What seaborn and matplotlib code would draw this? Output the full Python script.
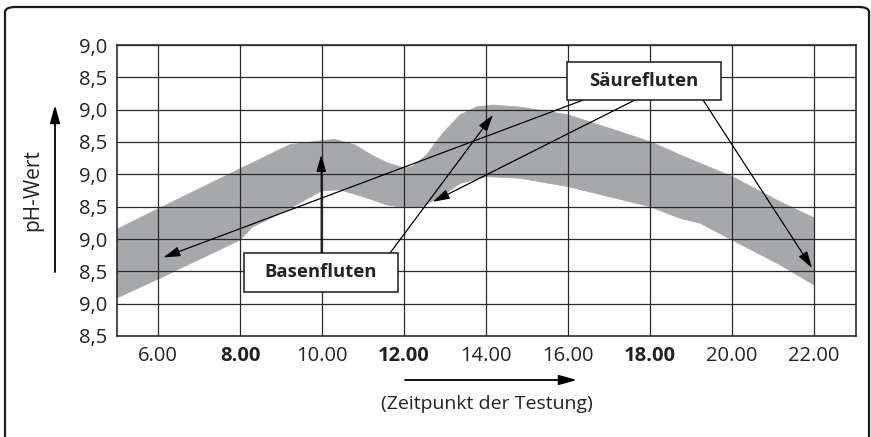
import numpy as np
import matplotlib.pyplot as plt
import seaborn as sns
from matplotlib.patches import Rectangle, FancyBboxPatch, FancyArrowPatch

# band edges (x = hour of day, y = grid row 0..9)
upper_x = [5, 6, 8, 9.2, 10, 10.3, 10.8, 11.2, 11.6, 12.0, 12.2, 12.55, 12.95, 13.37, 13.78, 14.17, 14.83, 16, 18, 18.73, 20, 21.17, 22]
upper_y = [3.3, 3.93, 5.17, 5.91, 6.04, 6.08, 5.91, 5.6, 5.35, 5.2, 5.24, 5.6, 6.28, 6.84, 7.09, 7.14, 7.08, 6.84, 6.01, 5.6, 4.93, 4.15, 3.65]
lower_x = [5, 6, 8, 8.3, 9.15, 10, 10.44, 11.0, 11.6, 12.0, 12.4, 12.9, 13.37, 14, 14.83, 16, 18, 18.73, 19.22, 20, 21.17, 22]
lower_y = [1.18, 1.76, 2.97, 3.37, 3.90, 4.5, 4.52, 4.31, 4.05, 3.98, 3.98, 4.31, 4.72, 4.93, 4.88, 4.62, 4.0, 3.64, 3.49, 2.97, 2.2, 1.58]

x_ticks = [6, 8, 10, 12, 14, 16, 18, 20, 22]
x_labels = ["6.00", "8.00", "10.00", "12.00", "14.00", "16.00", "18.00", "20.00", "22.00"]
bold_ticks = ["8.00", "12.00", "18.00"]
y_ticks = list(range(10))
y_labels = ["8,5", "9,0"] * 5

band_color = "#a7a8ab"

sns.set_style("white")
plt.rcParams['font.family'] = ['Open Sans', 'DejaVu Sans']

fig = plt.figure(figsize=(8.71, 4.37), dpi=100)
ax = fig.add_axes([117 / 871, 1 - 336 / 437, 739 / 871, 291 / 437])

# gray band
ax.fill(np.r_[upper_x, lower_x[::-1]], np.r_[upper_y, lower_y[::-1]],
        color=band_color, lw=0, zorder=1)
sns.lineplot(x=upper_x, y=upper_y, ax=ax, color=band_color, lw=0.6, zorder=1)
sns.lineplot(x=lower_x, y=lower_y, ax=ax, color=band_color, lw=0.6, zorder=1)

ax.set_xlim(5, 23.02)
ax.set_ylim(0, 9)
ax.set_xticks(x_ticks)
ax.set_xticklabels(x_labels, fontsize=14.5, color="#222222")
ax.set_yticks(y_ticks)
ax.set_yticklabels(y_labels, fontsize=14.5, color="#222222")
for lab in ax.get_xticklabels():
    if lab.get_text() in bold_ticks:
        lab.set_fontweight("bold")
ax.tick_params(length=0, pad=7)
ax.grid(True, color="#2a2a2a", lw=0.9, zorder=2)
ax.set_axisbelow(False)
for s in ax.spines.values():
    s.set_color("#1a1a1a")
    s.set_linewidth(1.1)

# arrows from the label boxes
arrow_kw = dict(arrowstyle="-|>,head_length=0.85,head_width=0.25", mutation_scale=12,
                color="black", lw=0.9, shrinkA=0, shrinkB=0)
arrows = [((16.37, 7.30), (6.13, 2.43)),
          ((17.63, 7.30), (12.70, 4.15)),
          ((19.29, 7.30), (21.95, 2.10)),
          ((9.98, 2.57), (9.98, 5.60)),
          ((11.66, 2.57), (14.17, 6.84))]
for start, end in arrows:
    ax.annotate("", xy=end, xytext=start, arrowprops=arrow_kw, zorder=4)

# label boxes
for (x0, x1, y0, y1, txt) in [(15.98, 19.73, 7.30, 8.475, "Säurefluten"),
                              (8.10, 11.85, 1.36, 2.57, "Basenfluten")]:
    ax.add_patch(Rectangle((x0, y0), x1 - x0, y1 - y0, facecolor="white",
                           edgecolor="#1a1a1a", lw=1.1, zorder=5))
    ax.text((x0 + x1) / 2, (y0 + y1) / 2, txt, ha="center", va="center",
            fontsize=13.3, fontweight="bold", color="#222222", zorder=6)

# axis descriptions with arrows
fig.text(0.038, 0.565, "pH-Wert", rotation=90, ha="center", va="center",
         fontsize=15, color="#222222")
fig.text(0.559, 0.0755, "(Zeitpunkt der Testung)", ha="center", va="center",
         fontsize=14, color="#222222")
head = dict(arrowstyle="-|>,head_length=0.9,head_width=0.25", mutation_scale=12,
            color="black", lw=1.3, shrinkA=0, shrinkB=0)
fig.patches.append(FancyArrowPatch((55 / 871, 1 - 272 / 437), (55 / 871, 1 - 105 / 437),
                                   transform=fig.transFigure, **head))
fig.patches.append(FancyArrowPatch((405 / 871, 1 - 380 / 437), (577 / 871, 1 - 380 / 437),
                                   transform=fig.transFigure, **head))

# outer rounded frame
fig.patches.append(FancyBboxPatch((5 / 871, -0.05), 864 / 871, 1.05 - 7 / 437,
                                  boxstyle="round,pad=0,rounding_size=0.012",
                                  transform=fig.transFigure, fill=False,
                                  edgecolor="#1a1a1a", lw=1.6))

fig.savefig("out.png", dpi=100)
